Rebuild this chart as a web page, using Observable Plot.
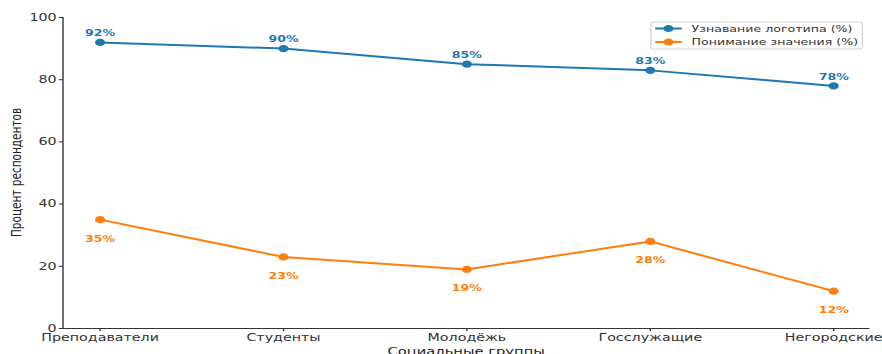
<!DOCTYPE html>
<html>
<head>
<meta charset="utf-8">
<script src="https://cdn.jsdelivr.net/npm/d3@7"></script>
<script src="https://cdn.jsdelivr.net/npm/@observablehq/plot@0.6"></script>
<style>
  html, body { margin: 0; padding: 0; background: #fff; }
  #chart svg { display: block; }
</style>
</head>
<body>
<div id="chart"></div>
<script>
// Survey: logo recognition vs. understanding of its meaning by social group
const categories = ["Преподаватели", "Студенты", "Молодёжь", "Госслужащие", "Негородские"];
const recognition = [92, 90, 85, 83, 78];
const understanding = [35, 23, 19, 28, 12];
const seriesNames = ["Узнавание логотипа (%)", "Понимание значения (%)"];
const yTicks = [0, 20, 40, 60, 80, 100];
const colors = ["#1f77b4", "#ff7f0e"];

const rows = [
  ...categories.map((c, i) => ({group: c, value: recognition[i], series: seriesNames[0]})),
  ...categories.map((c, i) => ({group: c, value: understanding[i], series: seriesNames[1]}))
];
const recRows = rows.filter(d => d.series === seriesNames[0]);
const undRows = rows.filter(d => d.series === seriesNames[1]);

// The chart is laid out at a narrower width and then widened to the page.
const W = 630, H = 354, OUT_W = 882;
const font = "DejaVu Sans, sans-serif";

const plot = Plot.plot({
  width: W,
  height: H,
  marginLeft: 45,
  marginRight: 9,
  marginTop: 17,
  marginBottom: 26,
  style: {fontFamily: font, fontSize: "10.2px", color: "#333", background: "#fff"},
  x: {type: "point", domain: categories, padding: 0.19},
  y: {domain: [0, 100]},
  color: {domain: seriesNames, range: colors},
  marks: [
    Plot.ruleY([0], {stroke: "#333", strokeWidth: 1}),
    Plot.axisX({tickSize: 3, tickPadding: 2, label: null, stroke: "#333", fill: "#333"}),
    Plot.axisY({ticks: yTicks, tickSize: 3, tickPadding: 2, label: null, stroke: "#333", fill: "#333"}),
    Plot.line(rows, {x: "group", y: "value", z: "series", stroke: "series", strokeWidth: 2}),
    Plot.dot(rows, {x: "group", y: "value", fill: "series", r: 3.6}),
    Plot.text(recRows, {x: "group", y: "value", text: d => d.value + "%", dy: -9,
      fill: colors[0], fontWeight: "bold", fontSize: 9}),
    Plot.text(undRows, {x: "group", y: "value", text: d => d.value + "%", dy: 19,
      fill: colors[1], fontWeight: "bold", fontSize: 9})
  ]
});

const svg = d3.select(plot);
const xr = plot.scale("x").range;
const yr = plot.scale("y").range;

// left spine
svg.append("line")
  .attr("x1", xr[0]).attr("x2", xr[0])
  .attr("y1", yr[0]).attr("y2", yr[1])
  .attr("stroke", "#333");

// axis titles
svg.append("text")
  .attr("x", (xr[0] + xr[1]) / 2).attr("y", H + 1)
  .attr("text-anchor", "middle")
  .attr("font-family", font).attr("font-size", 10.5).attr("fill", "#222")
  .text("Социальные группы");
svg.append("text")
  .attr("transform", `translate(15,${(yr[0] + yr[1]) / 2}) rotate(-90)`)
  .attr("text-anchor", "middle")
  .attr("font-family", font).attr("font-size", 10.5).attr("fill", "#222")
  .text("Процент респондентов");

// legend
const lg = svg.append("g").attr("transform", "translate(465,22)");
lg.append("rect")
  .attr("width", 151).attr("height", 27).attr("rx", 2)
  .attr("fill", "#fff").attr("fill-opacity", 0.8)
  .attr("stroke", "#d6d6d6");
seriesNames.forEach((name, i) => {
  const y = 6.5 + i * 13.5;
  lg.append("line").attr("x1", 3).attr("x2", 22).attr("y1", y).attr("y2", y)
    .attr("stroke", colors[i]).attr("stroke-width", 2);
  lg.append("circle").attr("cx", 12.5).attr("cy", y).attr("r", 3.6).attr("fill", colors[i]);
  lg.append("text").attr("x", 29).attr("y", y).attr("dy", "0.35em")
    .attr("text-anchor", "start")
    .attr("font-family", font).attr("font-size", 9).attr("fill", "#333")
    .text(name);
});

// widen to the page width
plot.setAttribute("viewBox", `0 0 ${W} ${H}`);
plot.setAttribute("preserveAspectRatio", "none");
plot.setAttribute("width", OUT_W);
plot.setAttribute("height", H);
plot.style.width = OUT_W + "px";
plot.style.height = H + "px";
plot.style.maxWidth = "none";

document.getElementById("chart").appendChild(plot);
</script>
</body>
</html>
